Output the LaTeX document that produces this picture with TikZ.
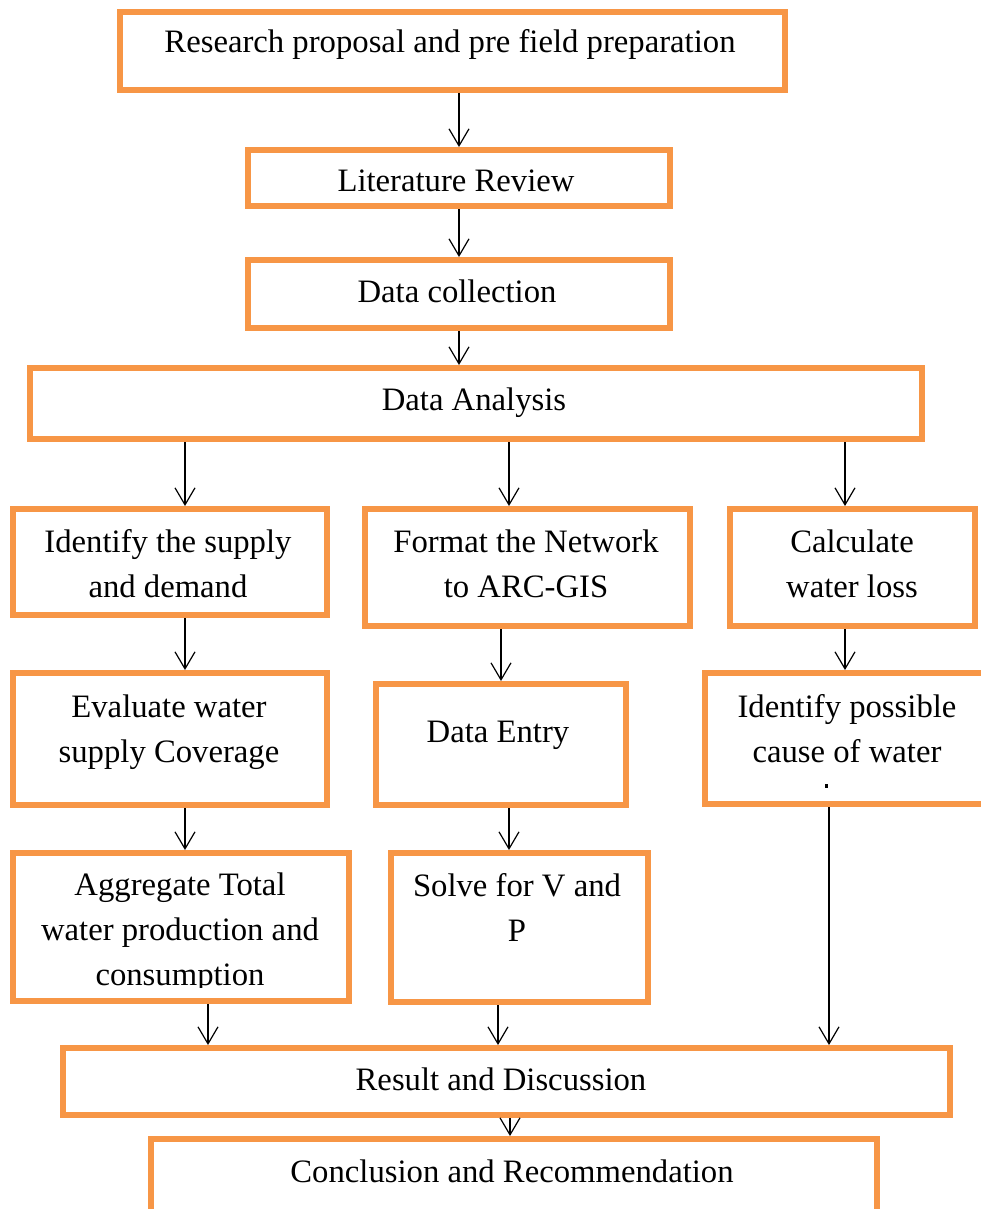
\documentclass[tikz,border=0pt]{standalone}
\usepackage{fontspec}
\setmainfont{Liberation Serif}
\usetikzlibrary{arrows.meta}
\definecolor{boxorange}{HTML}{F79646}
\begin{document}
\begin{tikzpicture}[x=1pt,y=-1pt,
  box/.style={draw=boxorange, line width=6pt, rectangle, inner sep=0pt},
  txt/.style={font=\fontsize{32.7}{45}\selectfont, align=center, anchor=base, inner sep=0pt},
  arr/.style={draw=black, line width=1.2pt, -{Straight Barb[length=17pt,width=20pt,line width=1.2pt]}}]
\fill[white] (0,0) rectangle (981,1209);
\useasboundingbox (0,0) rectangle (981,1209);
% boxes
\node[box, minimum width=665pt, minimum height=78pt]  (r1)  at (452.5,51) {};
\node[box, minimum width=422pt, minimum height=56pt]  (r2)  at (459,178) {};
\node[box, minimum width=422pt, minimum height=68pt]  (r3)  at (459,294) {};
\node[box, minimum width=892pt, minimum height=71pt]  (r4)  at (476,403.5) {};
\node[box, minimum width=314.5pt, minimum height=106pt] (r5a) at (169.75,562) {};
\node[box, minimum width=325pt, minimum height=117pt] (r5b) at (527.5,567.5) {};
\node[box, minimum width=245pt, minimum height=117pt] (r5c) at (852.5,567.5) {};
\node[box, minimum width=314pt, minimum height=132pt] (r6a) at (170,739) {};
\node[box, minimum width=250pt, minimum height=121pt] (r6b) at (501,744.5) {};
\node[box, minimum width=285pt, minimum height=131pt] (r6c) at (847.5,738.5) {};
\node[box, minimum width=336.5pt, minimum height=148pt] (r7a) at (180.75,927) {};
\node[box, minimum width=257pt, minimum height=149pt] (r7b) at (519.5,927.5) {};
\node[box, minimum width=887pt, minimum height=67pt]  (r8)  at (506.5,1081.5) {};
\node[box, minimum width=726pt, minimum height=86pt]  (r9)  at (514,1182) {};
% texts (base anchor = baseline of the last line)
\node[txt] (t1) at (450,53) {Research proposal and pre field preparation};
\node[txt] (t2) at (456,192) {Literature Review};
\node[txt] (t3) at (457,302) {Data collection};
\node[txt] (t4) at (474,410) {Data Analysis};
\node[txt] (t5a) at (168,597) {Identify the supply\\and demand};
\node[txt] (t5b) at (526,597) {Format the Network\\to ARC-GIS};
\node[txt] (t5c) at (852,597) {Calculate\\water loss};
\node[txt] (t6a) at (169,762) {Evaluate water\\supply Coverage};
\node[txt] (t6b) at (498,742) {Data Entry};
\node[txt] (t6c) at (847,762) {Identify possible\\cause of water};
% small clipped mark below "cause of water"
\node[fill=black, inner sep=0pt, minimum width=2.5pt, minimum height=4pt] (t6d) at (826.5,786) {};
\begin{scope}
\clip (15,856) rectangle (346,987);
\node[txt] (t7a) at (180,985) {Aggregate Total\\water production and\\consumption};
\end{scope}
\node[txt] (t7b) at (517,941) {Solve for V and\\P};
\node[txt] (t8) at (501,1090) {Result and Discussion};
\node[txt] (t9) at (512,1182) {Conclusion and Recommendation};
% arrow columns
\coordinate (ca) at (185,0);
\coordinate (cb) at (509,0);
\coordinate (cc) at (845,0);
\coordinate (cd) at (208,0);
\coordinate (ce) at (498,0);
\coordinate (cf) at (829,0);
\coordinate (cg) at (510,0);
% connectors
\draw[arr] (r1.south -| r2.north) -- (r2.north);
\draw[arr] (r2.south) -- (r3.north);
\draw[arr] (r3.south) -- (r4.north -| r3.south);
\draw[arr] (r4.south -| ca) -- (r5a.north -| ca);
\draw[arr] (r4.south -| cb) -- (r5b.north -| cb);
\draw[arr] (r4.south -| cc) -- (r5c.north -| cc);
\draw[arr] (r5a.south -| ca) -- (r6a.north -| ca);
\draw[arr] (r5b.south -| r6b.north) -- (r6b.north);
\draw[arr] (r5c.south -| cc) -- (r6c.north -| cc);
\draw[arr] (r6a.south -| ca) -- (r7a.north -| ca);
\draw[arr] (r6b.south -| cb) -- (r7b.north -| cb);
\draw[arr] (r6c.south -| cf) -- (r8.north -| cf);
\draw[arr] (r7a.south -| cd) -- (r8.north -| cd);
\draw[arr] (r7b.south -| ce) -- (r8.north -| ce);
\draw[arr] (r8.south -| cg) -- (r9.north -| cg);
\end{tikzpicture}
\end{document}
